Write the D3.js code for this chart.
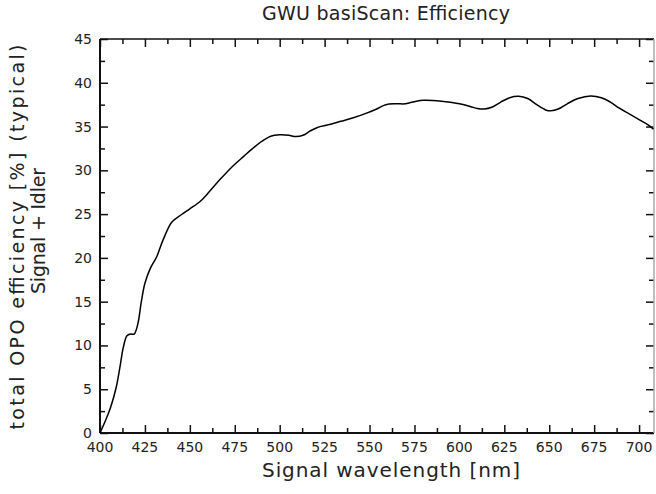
<!DOCTYPE html>
<html><head><meta charset="utf-8">
<script src="https://cdn.jsdelivr.net/npm/d3@7"></script>
<style>body{margin:0;background:#fff;} svg{display:block;} text{font-family:"DejaVu Sans",Verdana,sans-serif;fill:#222;}</style>
</head><body><svg id="c" width="656" height="494"></svg>
<script>
const wavelength = [400,403,406,409,411,413,415,417,419,421,423,425,428,431.5,435,440,445,450,456,461,467,474,480,485,490,495,500,505,509,513,517,521,527,534,541,548,554,559,565,570,576,580,590,600,606,610,614,618,623,628,633,638,643,648,651,655,660,666,673,679,684,689,695,700,705,708];
const efficiency = [0,1.4,3.0,5.2,7.4,9.8,11.1,11.3,11.3,12.4,15.0,17.1,18.8,20.1,22.0,24.1,24.9,25.6,26.5,27.6,29.0,30.5,31.6,32.5,33.3,33.9,34.05,34.0,33.85,34.0,34.5,34.9,35.2,35.6,36.0,36.5,37.0,37.5,37.6,37.6,37.9,38.0,37.9,37.6,37.3,37.05,37.0,37.2,37.8,38.3,38.45,38.2,37.5,36.9,36.8,37.0,37.6,38.2,38.5,38.3,37.8,37.1,36.4,35.8,35.2,34.7];
const xTicks = [400,425,450,475,500,525,550,575,600,625,650,675,700];
const yTicks = [0,5,10,15,20,25,30,35,40,45];
const title = "GWU basiScan: Efficiency";
const xTitle = "Signal wavelength [nm]";
const yTitle = ["total OPO efficiency [%] (typical)", "Signal + Idler"];

const svg = d3.select("#c");
const L=100, R=654, T=39, B=433;
const x = d3.scaleLinear().domain([400,708.3]).range([L,R]);
const y = d3.scaleLinear().domain([0,45]).range([B,T]);

const xMinor = d3.range(412.5,708,25);
const yMinor = d3.range(2.5,45,5);

function ticks(g, axisFn, scale, vals, size){
  const a = axisFn(scale).tickValues(vals).tickSizeInner(size).tickSizeOuter(0).tickFormat("");
  g.call(a);
  g.select(".domain").remove();
  g.selectAll(".tick line").attr("stroke","#111").attr("stroke-width",1.5);
}
const gb = svg.append("g").attr("transform",`translate(0,${B})`);
ticks(gb, d3.axisTop, x, xTicks, 8);
const gb2 = svg.append("g").attr("transform",`translate(0,${B})`);
ticks(gb2, d3.axisTop, x, xMinor, 5);
svg.append("g").selectAll("text").data(xTicks).join("text")
  .attr("x",d=>x(d)).attr("y",B+19).attr("text-anchor","middle").style("font-size","14px").text(d=>d);
const gt = svg.append("g").attr("transform",`translate(0,${T})`);
ticks(gt, d3.axisBottom, x, xTicks, 8);
const gt2 = svg.append("g").attr("transform",`translate(0,${T})`);
ticks(gt2, d3.axisBottom, x, xMinor, 5);
const gl = svg.append("g").attr("transform",`translate(${L},0)`);
ticks(gl, d3.axisRight, y, yTicks, 8);
const gl2 = svg.append("g").attr("transform",`translate(${L},0)`);
ticks(gl2, d3.axisRight, y, yMinor, 5);
svg.append("g").selectAll("text").data(yTicks).join("text")
  .attr("x",L-8).attr("y",d=>y(d)+5).attr("text-anchor","end").style("font-size","14px").text(d=>d);
const gr = svg.append("g").attr("transform",`translate(${R},0)`);
ticks(gr, d3.axisLeft, y, yTicks, 8);
const gr2 = svg.append("g").attr("transform",`translate(${R},0)`);
ticks(gr2, d3.axisLeft, y, yMinor, 5);

svg.append("line").attr("x1",L).attr("x2",R).attr("y1",B).attr("y2",B).attr("stroke","#111").attr("stroke-width",2);
svg.append("line").attr("x1",L).attr("x2",R).attr("y1",T).attr("y2",T).attr("stroke","#111").attr("stroke-width",1.5);
svg.append("line").attr("x1",L).attr("x2",L).attr("y1",T).attr("y2",B).attr("stroke","#111").attr("stroke-width",2);
svg.append("line").attr("x1",R).attr("x2",R).attr("y1",T).attr("y2",B).attr("stroke","#aaa").attr("stroke-width",1.5);

const line = d3.line().x((d,i)=>x(wavelength[i])).y(d=>y(d)).curve(d3.curveCatmullRom.alpha(0.5));
svg.append("path").datum(efficiency).attr("d",line).attr("fill","none").attr("stroke","#000").attr("stroke-width",1.5);

svg.append("text").attr("x",386).attr("y",20).attr("text-anchor","middle").style("font-size","19px")
  .attr("textLength",248).attr("lengthAdjust","spacing").text(title);
svg.append("text").attr("x",391).attr("y",477).attr("text-anchor","middle").style("font-size","20px")
  .attr("textLength",258).attr("lengthAdjust","spacing").text(xTitle);
svg.append("text").attr("transform",`translate(24,237) rotate(-90)`).attr("text-anchor","middle").style("font-size","19px")
  .attr("textLength",385).attr("lengthAdjust","spacing").text(yTitle[0]);
svg.append("text").attr("transform",`translate(45,231) rotate(-90)`).attr("text-anchor","middle").style("font-size","19px")
  .attr("textLength",126).attr("lengthAdjust","spacing").text(yTitle[1]);
</script></body></html>
